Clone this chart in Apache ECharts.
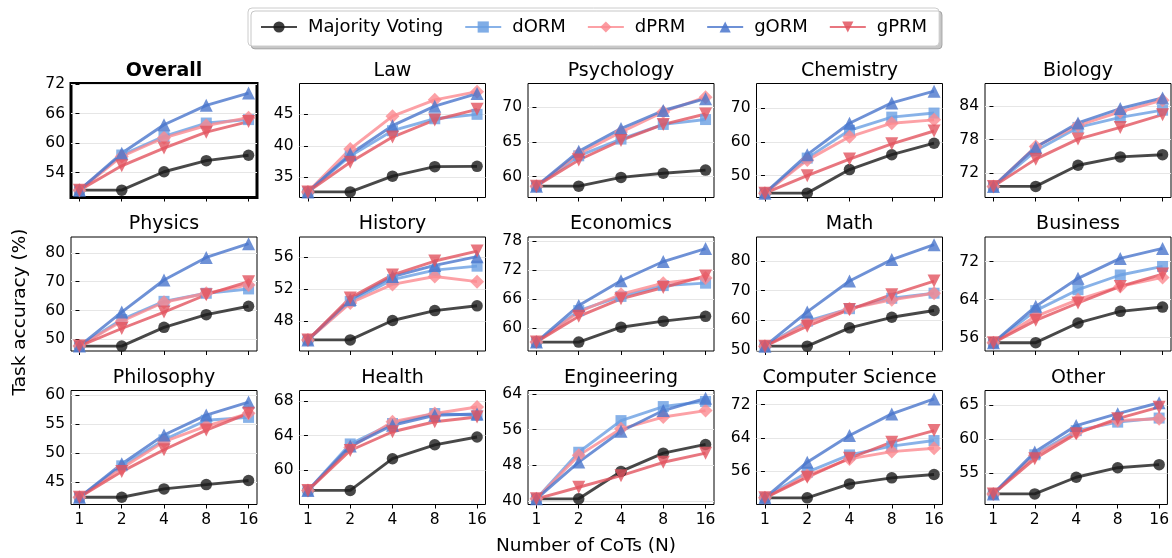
<!DOCTYPE html>
<html>
<head>
<meta charset="utf-8">
<script src="https://cdn.jsdelivr.net/npm/echarts@6/dist/echarts.min.js"></script>
<style>
  html, body { margin: 0; padding: 0; background: #fff; }
  #chart { width: 1172px; height: 558px; }
</style>
</head>
<body>
<div id="chart"></div>
<script>
// Panels, in reading order
const subjects = ['Overall', 'Law', 'Psychology', 'Chemistry', 'Biology',
  'Physics', 'History', 'Economics', 'Math', 'Business',
  'Philosophy', 'Health', 'Engineering', 'Computer Science', 'Other'];

// Number of CoTs on the x axis (log2-spaced)
const nLabels = ['1', '2', '4', '8', '16'];

// Y tick labels for each panel
const yTicks = [
  [54, 60, 66, 72], [35, 40, 45], [60, 65, 70], [50, 60, 70], [72, 78, 84],
  [50, 60, 70, 80], [48, 52, 56], [60, 66, 72, 78], [50, 60, 70, 80], [56, 64, 72],
  [45, 50, 55, 60], [60, 64, 68], [40, 48, 56, 64], [56, 64, 72], [55, 60, 65]
];

// Y axis extents for each panel
const yRanges = [
  [48.96, 72.14], [31.81, 49.89], [57.02, 73.37], [43.56, 77.23], [67.6, 88.1],
  [46.0, 85.5], [44.2, 58.58], [55.2, 78.9], [49.67, 88.0], [53.2, 77.2],
  [41.1, 60.86], [56.08, 69.2], [39.18, 64.75], [48.0, 75.36], [50.34, 67.1]
];

// Task accuracy (%) per panel, N = 1, 2, 4, 8, 16
const majorityVoting = [
  [50.45, 50.45, 54.2, 56.45, 57.55],
  [32.7, 32.7, 35.2, 36.7, 36.75],
  [58.65, 58.65, 59.9, 60.5, 60.95],
  [44.85, 44.85, 51.8, 56.2, 59.6],
  [69.6, 69.6, 73.4, 74.9, 75.3],
  [47.7, 47.7, 54.2, 58.6, 61.5],
  [45.6, 45.6, 48.05, 49.3, 49.9],
  [57.05, 57.05, 60.15, 61.4, 62.4],
  [51.3, 51.3, 57.45, 61.0, 63.3],
  [54.95, 54.95, 59.1, 61.55, 62.45],
  [42.35, 42.35, 43.8, 44.55, 45.25],
  [57.7, 57.7, 61.35, 62.95, 63.85],
  [40.45, 40.45, 46.6, 50.7, 52.65],
  [49.6, 49.6, 52.95, 54.4, 55.2],
  [51.9, 51.9, 54.35, 55.75, 56.2]
];
const dORM = [
  [50.45, 57.6, 61.4, 64.1, 64.8],
  [32.7, 38.4, 42.4, 44.3, 45.0],
  [58.65, 63.0, 65.4, 67.5, 68.2],
  [44.85, 55.2, 63.4, 67.3, 68.5],
  [69.6, 76.0, 80.2, 82.0, 83.3],
  [47.7, 56.9, 63.2, 66.0, 67.5],
  [45.6, 50.45, 53.2, 54.4, 54.9],
  [57.05, 63.6, 66.55, 68.8, 69.3],
  [51.3, 59.7, 63.9, 67.4, 69.1],
  [54.95, 61.7, 66.1, 69.2, 71.0],
  [42.35, 47.8, 52.3, 55.7, 56.2],
  [57.7, 63.05, 65.4, 66.55, 66.35],
  [40.45, 50.9, 58.0, 61.15, 62.3],
  [49.6, 55.75, 59.9, 62.0, 63.35],
  [51.9, 57.65, 61.2, 62.45, 63.05]
];
const dPRM = [
  [50.45, 57.3, 61.1, 63.6, 65.2],
  [32.7, 39.5, 44.7, 47.3, 48.6],
  [58.65, 63.3, 66.4, 69.3, 71.4],
  [44.85, 54.6, 61.5, 65.5, 66.5],
  [69.6, 76.75, 80.55, 83.0, 85.1],
  [47.7, 56.3, 62.9, 66.0, 68.9],
  [45.6, 50.25, 52.6, 53.6, 52.95],
  [57.05, 63.3, 67.0, 69.3, 70.4],
  [51.3, 59.1, 63.9, 66.9, 69.1],
  [54.95, 60.5, 64.0, 66.8, 68.7],
  [42.35, 47.4, 52.0, 54.7, 56.9],
  [57.7, 62.65, 65.6, 66.55, 67.3],
  [40.45, 50.2, 56.15, 58.8, 60.25],
  [49.6, 54.95, 58.95, 60.7, 61.5],
  [51.9, 57.55, 60.9, 62.7, 62.95]
];
const gORM = [
  [50.45, 57.95, 63.75, 67.7, 70.2],
  [32.7, 38.7, 43.2, 46.3, 48.3],
  [58.65, 63.65, 66.9, 69.5, 71.2],
  [44.85, 56.2, 65.5, 71.5, 74.95],
  [69.6, 76.65, 81.0, 83.6, 85.5],
  [47.7, 59.5, 70.6, 78.4, 83.2],
  [45.6, 50.7, 53.6, 55.0, 56.1],
  [57.05, 64.65, 69.8, 73.8, 76.5],
  [51.3, 62.8, 73.2, 80.4, 85.4],
  [54.95, 62.6, 68.5, 72.7, 74.8],
  [42.35, 48.15, 53.15, 56.6, 58.85],
  [57.7, 62.8, 65.2, 66.35, 66.5],
  [40.45, 48.7, 55.6, 60.25, 63.0],
  [49.6, 58.15, 64.55, 69.75, 73.35],
  [51.9, 58.05, 61.95, 63.7, 65.3]
];
const gPRM = [
  [50.45, 55.4, 59.0, 62.25, 64.4],
  [32.7, 37.4, 41.4, 44.1, 45.8],
  [58.65, 62.4, 65.2, 67.5, 69.0],
  [44.85, 50.0, 54.9, 59.4, 63.2],
  [69.6, 74.5, 78.1, 80.2, 82.5],
  [47.7, 53.8, 59.5, 65.5, 70.0],
  [45.6, 50.9, 53.8, 55.55, 56.8],
  [57.05, 62.4, 66.05, 68.4, 70.8],
  [51.3, 58.0, 63.6, 68.6, 73.2],
  [54.95, 59.65, 63.3, 66.8, 69.4],
  [42.35, 46.8, 50.6, 54.0, 56.9],
  [57.7, 62.3, 64.45, 65.6, 66.15],
  [40.45, 43.05, 45.65, 48.65, 50.7],
  [49.6, 54.55, 59.1, 62.95, 65.75],
  [51.9, 57.05, 60.75, 62.95, 64.65]
];

const FONT = 'DejaVu Sans';
// Square rotated by 45 degrees
const DIAMOND = 'path://M0,-1L1,0L0,1L-1,0Z';

// Method styling (drawn in this order)
const methods = [
  { name: 'Majority Voting', values: majorityVoting, color: '#1a1a1a', symbol: 'circle', size: 11.5, rotate: 0 },
  { name: 'dORM', values: dORM, color: '#6a9fe2', symbol: 'rect', size: 11, rotate: 0 },
  { name: 'dPRM', values: dPRM, color: '#fb8a90', symbol: DIAMOND, size: 14, rotate: 0 },
  { name: 'gORM', values: gORM, color: '#4a76cc', symbol: 'triangle', size: 13, rotate: 0 },
  { name: 'gPRM', values: gPRM, color: '#e2545f', symbol: 'triangle', size: 13, rotate: 180 }
];

// Subplot geometry
const colLeft = [71, 299.5, 528, 756.5, 985];
const rowTop = [83.5, 237, 390.5];
const boxW = 186, boxH = 114;

const grids = [], xAxes = [], yAxes = [], series = [], titles = [];
const xTickVals = [0, 1, 2, 3, 4];

subjects.forEach((subj, i) => {
  const r = Math.floor(i / 5), c = i % 5;
  const isOverall = i === 0;
  grids.push({
    left: colLeft[c], top: rowTop[r], width: boxW, height: boxH,
    show: true, borderColor: '#000', borderWidth: isOverall ? 3 : 1,
    backgroundColor: 'transparent', containLabel: false
  });
  xAxes.push({
    type: 'value', gridIndex: i, min: -0.2, max: 4.2,
    axisLine: { show: false },
    axisTick: { show: true, inside: false, length: 4, lineStyle: { color: '#000', width: 1 }, customValues: xTickVals },
    axisLabel: {
      show: r === 2, customValues: xTickVals, margin: 7,
      formatter: v => nLabels[Math.round(v)],
      fontFamily: FONT, fontSize: 15.5, color: '#000'
    },
    splitLine: { show: false }
  });
  yAxes.push({
    type: 'value', gridIndex: i, min: yRanges[i][0], max: yRanges[i][1],
    axisLine: { show: false },
    axisTick: { show: true, inside: false, length: 4, lineStyle: { color: '#000', width: 1 }, customValues: yTicks[i] },
    axisLabel: {
      show: true, customValues: yTicks[i], margin: 6,
      formatter: v => String(Math.round(v)),
      fontFamily: FONT, fontSize: 15.5, color: '#000'
    },
    splitLine: { show: true, lineStyle: { color: '#e6e6e6', width: 1 } }
  });
  titles.push({
    text: subj, left: colLeft[c] + boxW / 2, top: rowTop[r] - 22, textAlign: 'center', padding: 0,
    textStyle: { fontFamily: FONT, fontSize: 19, fontWeight: isOverall ? 'bold' : 'normal', color: '#000' }
  });
  methods.forEach(m => {
    series.push({
      type: 'line', name: m.name, xAxisIndex: i, yAxisIndex: i,
      data: m.values[i].map((v, k) => [k, v]),
      symbol: m.symbol, symbolSize: m.size, symbolRotate: m.rotate,
      lineStyle: { color: m.color, width: 2.9, opacity: 0.8 },
      itemStyle: { color: m.color, opacity: 0.8 },
      emphasis: { disabled: true },
      animation: false, clip: true, z: 2
    });
  });
});

const option = {
  backgroundColor: '#fff',
  animation: false,
  title: titles,
  legend: {
    data: methods.map(m => ({ name: m.name, itemStyle: { opacity: 0.85 } })),
    left: 248, top: 8,
    padding: [10, 12],
    itemWidth: 36, itemHeight: 14, itemGap: 21,
    backgroundColor: '#fff', borderColor: '#cccccc', borderWidth: 1, borderRadius: 4,
    shadowColor: 'rgba(0,0,0,0.22)', shadowOffsetX: 3, shadowOffsetY: 3, shadowBlur: 0,
    textStyle: { fontFamily: FONT, fontSize: 18, color: '#000', padding: [0, 0, 0, 6] },
    selectedMode: false
  },
  grid: grids,
  xAxis: xAxes,
  yAxis: yAxes,
  series: series,
  graphic: [
    {
      type: 'text', x: 20, y: 312, rotation: Math.PI / 2,
      style: { text: 'Task accuracy (%)', fontFamily: FONT, fontSize: 18.5, fill: '#000', align: 'center', verticalAlign: 'middle' }
    },
    {
      type: 'text', x: 586, y: 546,
      style: { text: 'Number of CoTs (N)', fontFamily: FONT, fontSize: 18.5, fill: '#000', align: 'center', verticalAlign: 'middle' }
    }
  ]
};

const chart = echarts.init(document.getElementById('chart'), null, { renderer: 'canvas' });
chart.setOption(option);
</script>
</body>
</html>
